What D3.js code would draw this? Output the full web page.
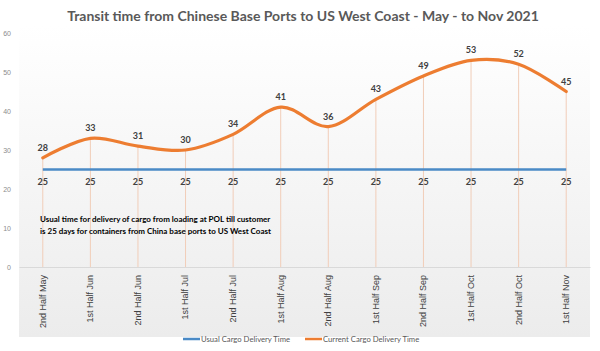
<!DOCTYPE html>
<html>
<head>
<meta charset="utf-8">
<script src="https://cdn.jsdelivr.net/npm/d3@7.9.0/dist/d3.min.js"></script>
<style>
  body { margin: 0; background: #fff; }
  svg { font-family: Lato, "Open Sans", sans-serif; }
</style>
</head>
<body>
<svg id="chart"></svg>
<script>
// Data
const periods = ["2nd Half May", "1st Half Jun", "2nd Half Jun", "1st Half Jul", "2nd Half Jul",
  "1st Half Aug", "2nd Half Aug", "1st Half Sep", "2nd Half Sep", "1st Half Oct", "2nd Half Oct", "1st Half Nov"];
const usualTime = [25, 25, 25, 25, 25, 25, 25, 25, 25, 25, 25, 25];
const currentTime = [28, 33, 31, 30, 34, 41, 36, 43, 49, 53, 52, 45];
const yTicks = [0, 10, 20, 30, 40, 50, 60];

const W = 600, H = 351;
const margin = { top: 33, right: 10, bottom: 84, left: 19 };
const width = W - margin.left - margin.right;
const height = H - margin.top - margin.bottom;

const svg = d3.select("#chart").attr("width", W).attr("height", H);

const defs = svg.append("defs");
const grad = defs.append("linearGradient")
  .attr("id", "bg").attr("x1", 0).attr("y1", 0).attr("x2", 0).attr("y2", 1);
grad.append("stop").attr("offset", "0%").attr("stop-color", "#ffffff");
grad.append("stop").attr("offset", "100%").attr("stop-color", "#ececec");

// title
svg.append("text")
  .attr("x", 303).attr("y", 21)
  .attr("text-anchor", "middle")
  .attr("fill", "#595959")
  .style("font-size", "14px").style("font-weight", "bold")
  .text("Transit time from Chinese Base Ports to US West Coast - May - to Nov 2021");

const g = svg.append("g").attr("transform", `translate(${margin.left},${margin.top})`);

// plot background
g.append("rect")
  .attr("x", 0).attr("y", -8)
  .attr("width", width).attr("height", height + 8 + 70)
  .attr("fill", "url(#bg)");

const x = d3.scaleBand().domain(periods).range([0, width]);
const y = d3.scaleLinear().domain([0, 60]).range([height, 0]);
const cx = d => x(d) + x.bandwidth() / 2;

// y axis labels only
const yAxis = g.append("g")
  .call(d3.axisLeft(y).tickValues(yTicks).tickSize(0).tickPadding(8));
yAxis.select(".domain").remove();
yAxis.selectAll("text").attr("fill", "#8c8c8c").style("font-size", "7px");

// drop lines
g.selectAll(".drop").data(periods).enter().append("line")
  .attr("x1", d => cx(d)).attr("x2", d => cx(d))
  .attr("y1", (d, i) => y(currentTime[i])).attr("y2", y(0))
  .attr("stroke", "#f1cdb8").attr("stroke-width", 1);

// x axis
const xAxis = g.append("g").attr("transform", `translate(0,${height})`)
  .call(d3.axisBottom(x).tickSize(0).tickPadding(6));
xAxis.select(".domain").attr("stroke", "#d9d9d9");
xAxis.selectAll("text")
  .attr("transform", "rotate(-90)")
  .attr("text-anchor", "end")
  .attr("dx", "-8").attr("dy", "0.32em").attr("x", 0).attr("y", 0)
  .attr("fill", "#404040").style("font-size", "9px");

// usual line
const flat = d3.line().x((d, i) => cx(periods[i])).y(d => y(d));
g.append("path").datum(usualTime)
  .attr("d", flat).attr("fill", "none")
  .attr("stroke", "#4a8ac6").attr("stroke-width", 2.5);

// current line (smoothed)
const smooth = d3.line().x((d, i) => cx(periods[i])).y(d => y(d)).curve(d3.curveCatmullRom.alpha(0));
g.append("path").datum(currentTime)
  .attr("d", smooth).attr("fill", "none")
  .attr("stroke", "#ed7d31").attr("stroke-width", 3.2)
  .attr("stroke-linecap", "round");

// data labels
g.selectAll(".lblC").data(currentTime).enter().append("text")
  .attr("x", (d, i) => cx(periods[i]))
  .attr("y", d => y(d) - 7)
  .attr("text-anchor", "middle")
  .attr("fill", "#404040")
  .style("font-size", "9px").style("font-weight", "bold")
  .text(d => d);

g.selectAll(".lblU").data(usualTime).enter().append("text")
  .attr("x", (d, i) => cx(periods[i]))
  .attr("y", d => y(d) + 15)
  .attr("text-anchor", "middle")
  .attr("fill", "#404040")
  .style("font-size", "9px").style("font-weight", "bold")
  .text(d => d);

// annotation
const note = g.append("text")
  .attr("fill", "#000")
  .style("font-size", "8px").style("font-weight", "bold");
note.append("tspan").attr("x", 21).attr("y", 189)
  .text("Usual time for delivery of cargo from loading at POL till customer");
note.append("tspan").attr("x", 21).attr("y", 201)
  .text("is 25 days for containers from China base ports to US West Coast");

// legend
const legendItems = [
  { name: "Usual Cargo Delivery Time", color: "#4a8ac6", x: 183 },
  { name: "Current Cargo Delivery Time", color: "#ed7d31", x: 305 }
];
const legend = svg.append("g").attr("transform", "translate(0,339)");
legendItems.forEach(it => {
  legend.append("line")
    .attr("x1", it.x).attr("x2", it.x + 17).attr("y1", 0).attr("y2", 0)
    .attr("stroke", it.color).attr("stroke-width", 2.5);
  legend.append("text")
    .attr("x", it.x + 18).attr("y", 3)
    .attr("fill", "#595959").style("font-size", "7.7px")
    .text(it.name);
});
</script>
</body>
</html>
